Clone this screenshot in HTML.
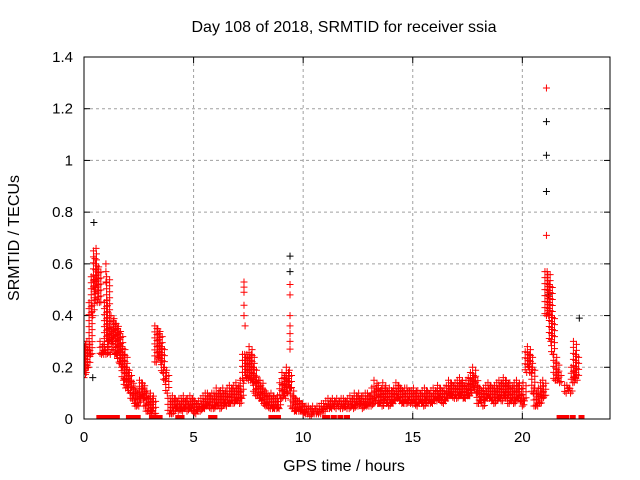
<!DOCTYPE html>
<html><head><meta charset="utf-8"><style>
body{margin:0;background:#fff}
svg{display:block;font-family:"Liberation Sans",sans-serif}
</style></head><body>
<svg id="chart" width="640" height="480" viewBox="0 0 640 480">
<text x="344" y="32" font-size="16" text-anchor="middle">Day 108 of 2018, SRMTID for receiver ssia</text>
<text x="344" y="471" font-size="16" text-anchor="middle">GPS time / hours</text>
<text transform="translate(19,238) rotate(-90)" font-size="16" text-anchor="middle">SRMTID / TECUs</text>
<g id="grid"></g><g id="ticks"></g>
<defs><clipPath id="clip"><rect x="84" y="57" width="526" height="362"/></clipPath></defs>
<g id="marks" clip-path="url(#clip)"></g>
<rect x="84" y="57" width="526" height="362" fill="none" stroke="#000" stroke-width="1"/>
</svg>
<script>
const xTicks=[0,5,10,15,20];
const yTicks=[0,0.2,0.4,0.6,0.8,1,1.2,1.4];
const yTickLabels=["0","0.2","0.4","0.6","0.8","1","1.2","1.4"];
const tStart=0, tStep=0.1;
const hi=[30,28,30,45,55,65,60,58,30,28, 45,55,35,40,38,37,35,33,28,25, 20,18,15,12,12,10,15,14,12,10, 8,10,8,36,35,33,28,20,18,8,
 8,9,8,7,8,8,9,7,8,9, 8,7,6,7,8,9,10,10,9,10, 10,12,10,11,12,10,12,13,12,13, 14,12,15,25,25,25,28,25,20,16,
 14,15,12,10,10,9,10,9,8,9, 14,18,16,20,18,12,9,8,7,7, 6,5,5,5,4,5,4,5,5,6, 6,7,8,7,8,7,8,7,8,8,
 7,8,9,8,10,9,10,8,9,10, 10,9,12,15,12,13,11,14,12,11, 12,11,12,14,13,12,11,12,12,11, 11,12,10,11,10,11,12,11,10,11,
 12,11,13,12,11,12,13,15,14,13, 14,15,16,14,13,15,16,18,20,16, 13,12,11,12,13,14,13,12,13,14, 15,14,16,15,13,14,12,14,15,13,
 9,14,26,28,25,20,12,10,12,14, 15,57,57,52,40,25,22,18,-1,-1, 13,13,12,20,30,25];
const lo=[16,18,20,25,40,50,45,45,25,25, 25,30,25,30,25,25,22,20,15,12, 12,10,8,6,5,5,8,8,5,3, 2,3,2,22,24,22,18,15,10,2,
 2,3,4,3,4,3,4,3,4,4, 3,2,3,3,4,4,5,5,4,4, 5,5,4,5,6,5,6,6,6,7, 7,6,8,15,16,15,15,14,10,9,
 8,7,6,5,5,4,4,4,4,4, 8,9,8,10,12,4,3,3,3,3, 2,2,2,1,2,2,2,2,2,3, 3,4,4,4,5,4,5,4,4,5,
 4,4,5,4,5,5,6,4,5,5, 5,5,6,7,6,6,5,7,6,5, 6,6,7,8,7,6,6,6,7,6, 6,6,5,6,6,5,7,6,6,6,
 7,7,8,7,6,7,8,9,9,8, 8,9,9,8,8,9,9,10,12,10, 6,7,5,7,8,8,7,6,7,8, 8,7,9,8,6,7,6,7,8,7,
 5,7,18,20,18,10,5,5,6,8, 9,40,40,30,25,15,15,14,-1,-1, 10,11,10,14,16,15];
const spikeT=[0.45,0.5,0.55,1.0,1.0,1.0,1.05,1.05,7.3,7.3,7.3,7.3,7.3,7.35,9.4,9.4,9.4,9.4,9.4,9.4,9.4,21.1,21.1];
const spikeV=[0.54,0.62,0.66,0.6,0.57,0.53,0.46,0.38,0.53,0.51,0.49,0.44,0.40,0.36,0.52,0.48,0.40,0.36,0.33,0.30,0.27,1.28,0.71];
const blackT=[0.45,9.4,9.4,21.1,21.1,21.1,22.6,0.4,21.2];
const blackV=[0.76,0.63,0.57,1.15,1.02,0.88,0.39,0.16,0.48];
const zeroT=[0.7,0.8,0.9,1.0,1.1,1.2,1.4,1.5,2.05,2.3,2.45,3.1,3.35,3.45,4.3,4.45,5.8,5.95,8.55,8.7,8.85,11.0,11.1,11.4,11.7,12.0,21.7,21.85,22.0,22.3,22.7];
const X=t=>84+t*(526/24), Y=v=>419-v*(362/1.4);
const NS="http://www.w3.org/2000/svg";
function mk(tag,attrs,parent){const e=document.createElementNS(NS,tag);for(const k in attrs)e.setAttribute(k,attrs[k]);parent.appendChild(e);return e;}
const grid=document.getElementById('grid'),ticks=document.getElementById('ticks'),marks=document.getElementById('marks');
xTicks.forEach(t=>{const x=X(t);
 if(t>0){const g=mk('line',{x1:x,x2:x,y1:57,y2:419,stroke:'#a0a0a0','stroke-dasharray':'3,3'},grid);
 
 }
 mk('line',{x1:x,x2:x,y1:419,y2:413,stroke:'#000'},ticks);mk('line',{x1:x,x2:x,y1:57,y2:63,stroke:'#000'},ticks);
 const l=mk('text',{x:x,y:442,'font-size':15,'text-anchor':'middle'},ticks);l.textContent=t;
 
 });
yTicks.forEach((v,i)=>{const y=Y(v);
 if(v>0&&v<1.4){const g=mk('line',{x1:84,x2:610,y1:y,y2:y,stroke:'#a0a0a0','stroke-dasharray':'3,3'},grid);
 
 }
 mk('line',{x1:84,x2:90,y1:y,y2:y,stroke:'#000'},ticks);mk('line',{x1:604,x2:610,y1:y,y2:y,stroke:'#000'},ticks);
 const l=mk('text',{x:73,y:y+5,'font-size':15,'text-anchor':'end'},ticks);l.textContent=yTickLabels[i];
 
 });
function plusPx(x,y,c,name){
 const p=mk('path',{d:`M${x-3.5},${y}h7M${x},${y-3.5}v7`,stroke:c,'stroke-width':1,fill:'none'},marks);
 
 }
function plus(t,v,c,name){plusPx(X(t),Y(v),c,name);}
blackT.forEach((t,i)=>plus(t,blackV[i],'#000','black-point'));
hi.forEach((h,i)=>{if(h<0)return;const t=tStart+i*tStep,a=Y(h/100),b=Y(lo[i]/100);
 const x=X(t);let k=0;
 for(let y=a;y<=b;y+=3){plusPx(x+((k%2)?1.5:-1.5),y,'#ff0000','srmtid-point');k++;}
 plusPx(x,b,'#ff0000','srmtid-point');});
spikeT.forEach((t,i)=>plus(t,spikeV[i],'#ff0000','srmtid-spike'));
zeroT.forEach(t=>{const r=mk('rect',{x:X(t)-3,y:415,width:6,height:4,fill:'#ff0000'},marks);
 
 });
</script>
</body></html>
